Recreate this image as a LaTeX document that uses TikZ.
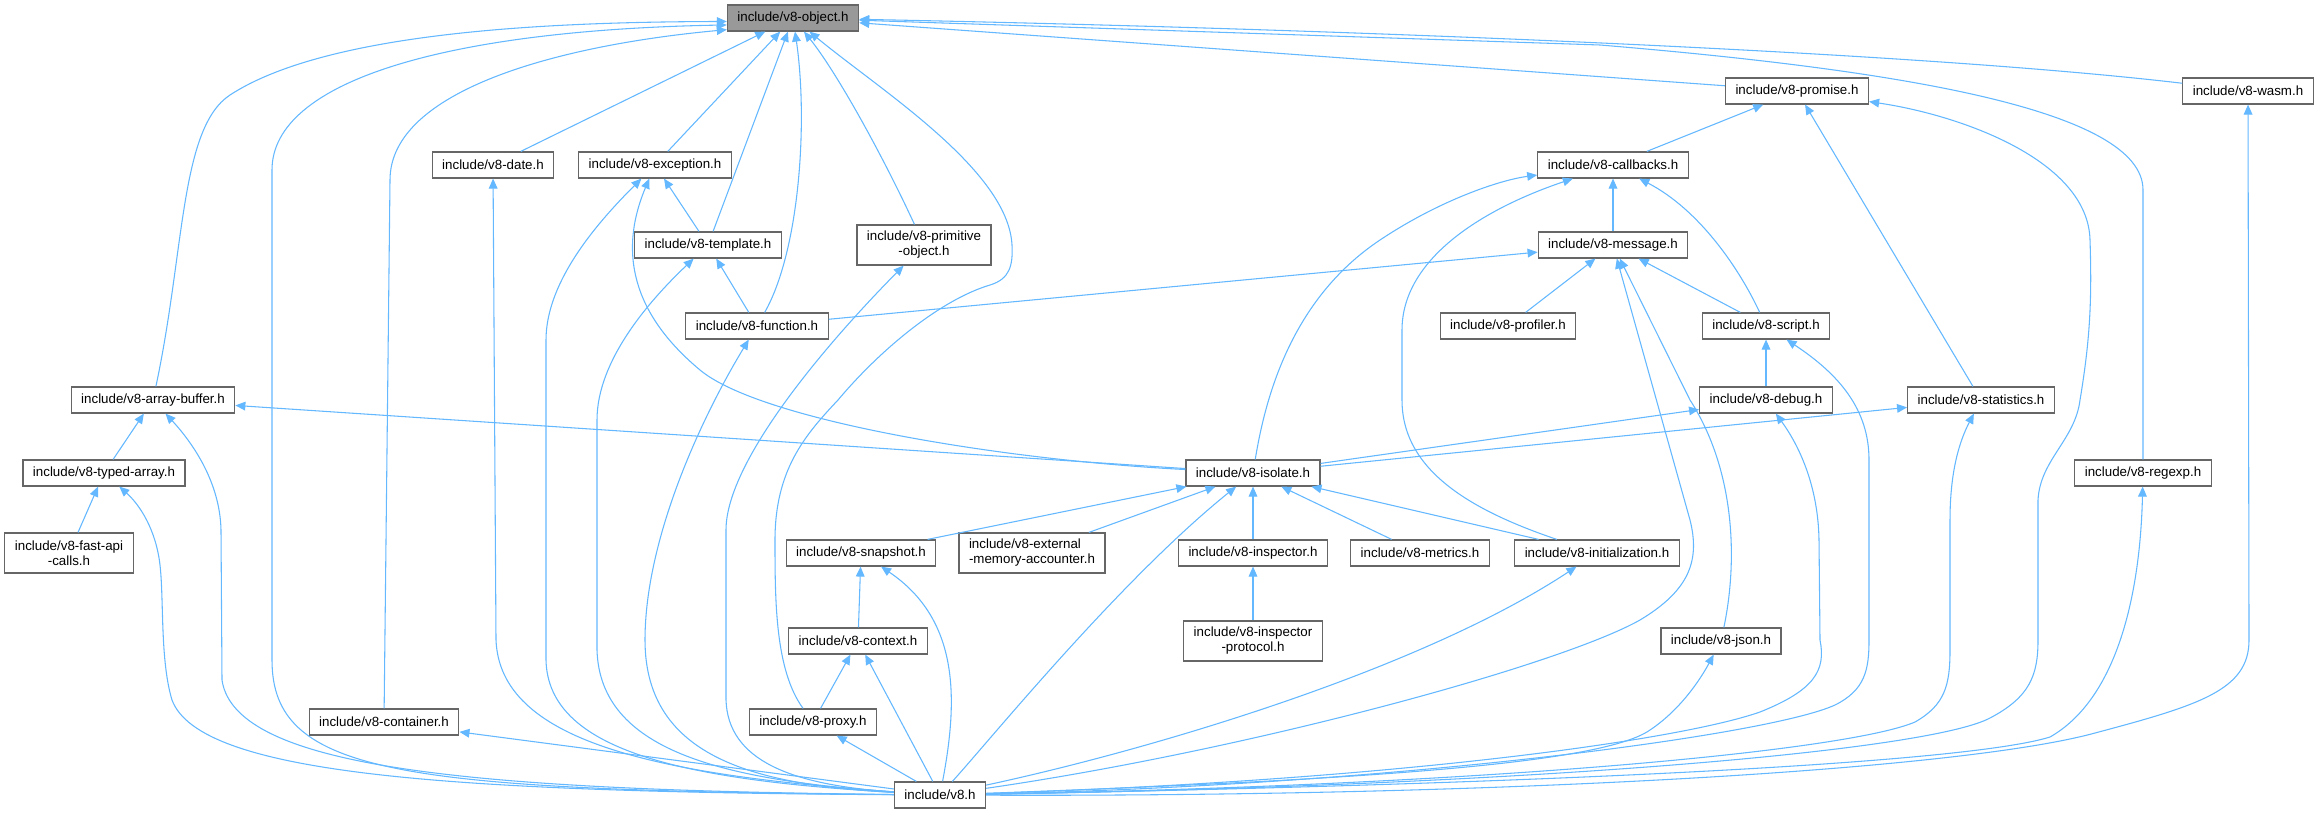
\documentclass[tikz,border=0pt]{standalone}
\usepackage{fontspec}
\setmainfont{Liberation Sans}
\usetikzlibrary{arrows.meta}
\definecolor{edgeblue}{HTML}{63B8FF}
\definecolor{nodegray}{HTML}{666666}
\definecolor{rootgray}{HTML}{999999}
\tikzset{
	file/.style={draw=nodegray, fill=white, line width=0.9pt, inner xsep=7.5pt, inner ysep=0pt, minimum height=19.5pt, font=\fontsize{10}{11.25}\selectfont},
	file2/.style={file, align=center, minimum height=30pt},
	inc/.style={draw=edgeblue, line width=0.8pt, -{Triangle[length=7.5pt,width=6.5pt]}}
}
\begin{document}
\begin{tikzpicture}[x=0.75pt, y=-0.75pt]
			%%%%% START %%%%%
			
			\path[fill=white, use as bounding box] (0, 0) rectangle (2319, 813);
			
			\node[file, fill=rootgray] (object) at (793, 18) {include/v8-object.h};
			\node[file] (promise) at (1797, 91) {include/v8-promise.h};
			\node[file] (wasm) at (2248, 91) {include/v8-wasm.h};
			\node[file] (date) at (493, 165) {include/v8-date.h};
			\node[file] (exception) at (655, 165) {include/v8-exception.h};
			\node[file] (callbacks) at (1613, 165) {include/v8-callbacks.h};
			\node[file] (template) at (708, 245) {include/v8-template.h};
			\node[file2] (primitive) at (924, 245) {include/v8-primitive\\-object.h};
			\node[file] (message) at (1613, 245) {include/v8-message.h};
			\node[file] (function) at (757, 326) {include/v8-function.h};
			\node[file] (profiler) at (1508, 326) {include/v8-profiler.h};
			\node[file] (script) at (1766, 326) {include/v8-script.h};
			\node[file] (arraybuf) at (153, 400) {include/v8-array-buffer.h};
			\node[file] (debug) at (1766, 400) {include/v8-debug.h};
			\node[file] (statistics) at (1981, 400) {include/v8-statistics.h};
			\node[file] (typedarr) at (104, 473) {include/v8-typed-array.h};
			\node[file] (isolate) at (1253, 473) {include/v8-isolate.h};
			\node[file] (regexp) at (2143, 473) {include/v8-regexp.h};
			\node[file2] (fastapi) at (69, 553) {include/v8-fast-api\\-calls.h};
			\node[file] (snapshot) at (861, 553) {include/v8-snapshot.h};
			\node[file2, align=left] (external) at (1032, 553) {include/v8-external\\-memory-accounter.h};
			\node[file] (inspector) at (1253, 553) {include/v8-inspector.h};
			\node[file] (metrics) at (1420, 553) {include/v8-metrics.h};
			\node[file] (init) at (1597, 553) {include/v8-initialization.h};
			\node[file] (context) at (858, 641) {include/v8-context.h};
			\node[file2] (protocol) at (1253, 641) {include/v8-inspector\\-protocol.h};
			\node[file] (json) at (1721, 641) {include/v8-json.h};
			\node[file] (container) at (384, 722) {include/v8-container.h};
			\node[file] (proxy) at (813, 722) {include/v8-proxy.h};
			\node[file] (v8) at (940, 795) {include/v8.h};
			
			\draw[inc] (arraybuf) .. controls (185, 250) and (180, 128) .. (230, 95) .. controls (330, 30) and (560, 22) .. (object.183);
			\draw[inc] (v8) .. controls (400, 790) and (272, 775) .. (272, 660) -- (272, 170) .. controls (272, 80) and (450, 30) .. (object.186);
			\draw[inc] (container) -- (390, 180) .. controls (390, 90) and (560, 45) .. (object.190);
			\draw[inc] (date) -- (object);
			\draw[inc] (exception) -- (object);
			\draw[inc] (template) -- (object);
			\draw[inc] (function) .. controls (800, 250) and (808, 120) .. (object);
			\draw[inc] (primitive) .. controls (880, 150) and (835, 70) .. (object);
			\draw[inc] (proxy) .. controls (775, 670) and (775, 600) .. (775, 540) .. controls (775, 470) and (805, 435) .. (838, 400) .. controls (880, 350) and (940, 300) .. (990, 285) .. controls (1010, 279) and (1013, 265) .. (1012, 245) .. controls (1008, 170) and (880, 90) .. (object);
			\draw[inc] (promise) -- (object);
			\draw[inc] (wasm) .. controls (1900, 50) and (1300, 28) .. (object);
			\draw[inc] (regexp) -- (2143, 190) .. controls (2143, 110) and (1900, 70) .. (1600, 45) -- (object);
			
			\draw[inc] (v8) .. controls (450, 792) and (200, 775) .. (172, 700) .. controls (160, 660) and (164, 600) .. (160, 565) .. controls (156, 530) and (140, 505) .. (typedarr);
			\draw[inc] (v8) .. controls (480, 790) and (235, 770) .. (222, 680) -- (221, 530) .. controls (220, 480) and (190, 440) .. (arraybuf);
			\draw[inc] (v8) -- (container);
			\draw[inc] (v8) .. controls (650, 775) and (500, 740) .. (496, 640) -- (date);
			\draw[inc] (v8) .. controls (680, 780) and (548, 750) .. (546, 660) -- (546, 340) .. controls (546, 280) and (600, 220) .. (exception);
			\draw[inc] (v8) .. controls (720, 780) and (600, 750) .. (597, 650) -- (597, 420) .. controls (597, 360) and (650, 300) .. (template);
			\draw[inc] (v8) .. controls (760, 785) and (645, 760) .. (645, 640) .. controls (645, 540) and (700, 420) .. (function);
			\draw[inc] (v8) .. controls (790, 785) and (728, 760) .. (726, 700) -- (726, 530) .. controls (726, 460) and (830, 340) .. (primitive);
			\draw[inc] (v8) -- (proxy);
			\draw[inc] (v8) -- (context);
			\draw[inc] (v8) .. controls (958, 700) and (960, 620) .. (snapshot);
			\draw[inc] (v8) .. controls (990, 740) and (1120, 580) .. (isolate);
			\draw[inc] (v8) .. controls (1150, 750) and (1420, 670) .. (init);
			\draw[inc] (v8) .. controls (1250, 750) and (1560, 665) .. (1640, 620) .. controls (1690, 590) and (1700, 560) .. (1690, 520) -- (message);
			\draw[inc] (v8) .. controls (1350, 780) and (1600, 765) .. (1650, 730) .. controls (1680, 710) and (1700, 680) .. (json);
			\draw[inc] (v8) .. controls (1400, 780) and (1680, 740) .. (1760, 712) .. controls (1815, 690) and (1826, 670) .. (1820, 640) -- (1819, 540) .. controls (1818, 480) and (1795, 440) .. (debug);
			\draw[inc] (v8) .. controls (1400, 785) and (1770, 735) .. (1835, 705) .. controls (1865, 690) and (1869, 670) .. (1869, 640) -- (1869, 460) .. controls (1869, 410) and (1840, 375) .. (script);
			\draw[inc] (v8) .. controls (1500, 785) and (1850, 750) .. (1915, 722) .. controls (1945, 705) and (1950, 685) .. (1950, 650) -- (1950, 520) .. controls (1950, 470) and (1960, 440) .. (statistics);
			\draw[inc] (v8) .. controls (1550, 785) and (1930, 750) .. (1990, 718) .. controls (2030, 697) and (2038, 675) .. (2038, 640) -- (2038, 500) .. controls (2040, 460) and (2075, 440) .. (2080, 400) .. controls (2090, 340) and (2092, 300) .. (2090, 240) .. controls (2088, 160) and (1960, 115) .. (promise);
			\draw[inc] (v8) .. controls (1500, 785) and (1960, 765) .. (2050, 737) .. controls (2115, 700) and (2140, 600) .. (regexp);
			\draw[inc] (v8) .. controls (1500, 797) and (1960, 770) .. (2095, 733) .. controls (2200, 705) and (2249, 690) .. (2249, 640) -- (wasm);
			
			\draw[inc] (callbacks) -- (promise);
			\draw[inc] (statistics) -- (promise);
			\draw[inc] (message) -- (callbacks);
			\draw[inc] (script) .. controls (1740, 270) and (1700, 210) .. (callbacks);
			\draw[inc] (isolate) .. controls (1265, 400) and (1290, 300) .. (1380, 240) .. controls (1440, 200) and (1500, 180) .. (callbacks);
			\draw[inc] (init) .. controls (1470, 510) and (1402, 470) .. (1402, 400) -- (1402, 330) .. controls (1402, 260) and (1480, 210) .. (callbacks);
			\draw[inc] (function) -- (message);
			\draw[inc] (profiler) -- (message);
			\draw[inc] (script) -- (message);
			\draw[inc] (json) .. controls (1738, 560) and (1735, 470) .. (1690, 400) -- (message);
			\draw[inc] (debug) -- (script);
			\draw[inc] (isolate) -- (debug);
			\draw[inc] (isolate) -- (statistics);
			\draw[inc] (template) -- (exception);
			\draw[inc] (function) -- (template);
			\draw[inc] (isolate) .. controls (1000, 460) and (760, 420) .. (700, 370) .. controls (640, 320) and (615, 260) .. (exception);
			\draw[inc] (isolate) -- (arraybuf);
			\draw[inc] (typedarr) -- (arraybuf);
			\draw[inc] (fastapi) -- (typedarr);
			\draw[inc] (snapshot) -- (isolate);
			\draw[inc] (external) -- (isolate);
			\draw[inc] (inspector) -- (isolate);
			\draw[inc] (metrics) -- (isolate);
			\draw[inc] (init) -- (isolate);
			\draw[inc] (protocol) -- (inspector);
			\draw[inc] (context) -- (snapshot);
			\draw[inc] (proxy) -- (context);
			
			%%%%% END %%%%%
\end{tikzpicture}
\end{document}
